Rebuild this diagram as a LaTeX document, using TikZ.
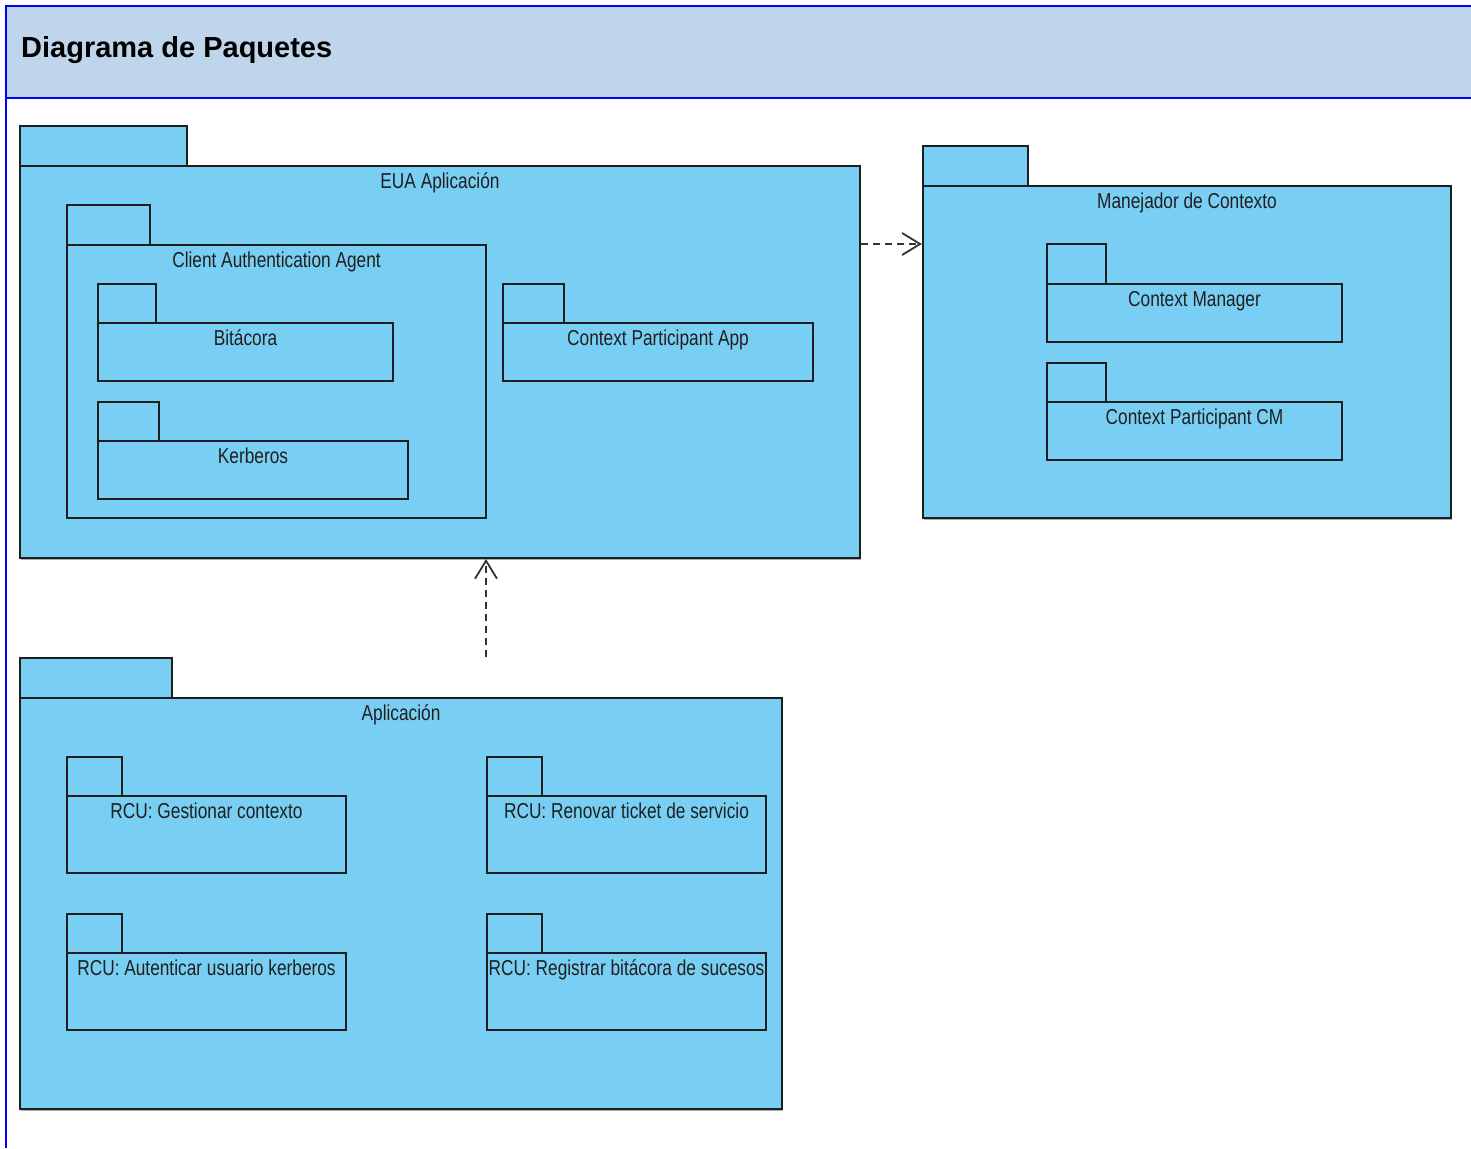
\documentclass[tikz,border=0pt]{standalone}
\usepackage{fontspec}
\usetikzlibrary{arrows.meta,calc,fit,shadows}
\newfontfamily\pkgfont[FakeStretch=0.8]{Liberation Sans}
\newfontfamily\headfont{Liberation Sans}

\definecolor{pkgfill}{HTML}{79CFF3}
\definecolor{headfill}{HTML}{BFD5EC}
\definecolor{frameblue}{HTML}{0000FF}
\definecolor{pkgline}{HTML}{1E1E1E}
\definecolor{deptone}{HTML}{333333}

\tikzset{
  pkgtab/.style={draw=pkgline, fill=pkgfill, line width=2pt, inner sep=0pt},
  pkgbody/.style={draw=pkgline, fill=pkgfill, line width=2pt, inner sep=0pt},
  pkgshadow/.style={drop shadow={shadow xshift=1pt, shadow yshift=-1.5pt, fill=black!45, opacity=0.7}},
  pkglabel/.style={anchor=base, inner sep=0pt, text=black!88,
    font=\pkgfont\fontsize{21.6}{26}\selectfont},
  dependency/.style={draw=deptone, line width=1.8pt, dash pattern=on 7pt off 5pt,
    -{Straight Barb[length=18pt, width=22pt, line width=1.8pt]}},
}

% #1 extra style, #2 name, #3 left x, #4 tab top, #5 tab right, #6 body top,
% #7 right x, #8 bottom y, #9 label
\newcommand\umlpkg[9][]{%
  \node[pkgtab, #1, fit={(#3,#4)(#5,#6)}] (#2-tab) {};
  \node[pkgbody, #1, fit={(#3,#6)(#7,#8)}] (#2) {};
  \node[inner sep=0pt, fit={(#2-tab)(#2)}] (#2-all) {};
  \node[pkglabel] (#2-label) at ($(#2.north)+(0,23)$) {#9};
}

\begin{document}
\begin{tikzpicture}[x=1pt, y=-1pt]
\useasboundingbox (0,0) rectangle (1471,1148);
\fill[white] (0,0) rectangle (1471,1148);

% diagram frame and heading band
\fill[headfill] (6,6) rectangle (1471,98);
\draw[frameblue, line width=2.6pt] (1471,6) -- (6,6) -- (6,1148);
\draw[frameblue, line width=2.6pt] (6,98) -- (1471,98);
\node[anchor=base west, inner sep=0pt, font=\headfont\bfseries\fontsize{29}{34}\selectfont]
  (title) at (21,58) {Diagrama de Paquetes};

% EUA Aplicación
\umlpkg[pkgshadow]{eua}{20}{126}{187}{166}{860}{558}{EUA Aplicación}
\umlpkg{caa}{67}{205}{150}{245}{486}{518}{Client Authentication Agent}
\umlpkg{bit}{98}{284}{156}{323}{393}{381}{Bitácora}
\umlpkg{ker}{98}{402}{159}{441}{408}{499}{Kerberos}
\umlpkg{cpa}{503}{284}{564}{323}{813}{381}{Context Participant App}

% Manejador de Contexto
\umlpkg[pkgshadow]{mdc}{923}{146}{1028}{186}{1451}{518}{Manejador de Contexto}
\umlpkg{cm}{1047}{244}{1106}{284}{1342}{342}{Context Manager}
\umlpkg{cpcm}{1047}{363}{1106}{402}{1342}{460}{Context Participant CM}

% Aplicación
\umlpkg[pkgshadow]{apl}{20}{658}{172}{698}{782}{1109}{Aplicación}
\umlpkg{gest}{67}{757}{122}{796}{346}{873}{RCU: Gestionar contexto}
\umlpkg{ren}{487}{757}{542}{796}{766}{873}{RCU: Renovar ticket de servicio}
\umlpkg{aut}{67}{914}{122}{953}{346}{1030}{RCU: Autenticar usuario kerberos}
\umlpkg{reg}{487}{914}{542}{953}{766}{1030}{RCU: Registrar bitácora de sucesos}

% dependencies
\draw[dependency] (eua.east |- caa.north) -- (mdc-all.west |- caa.north);
\draw[dependency] (apl-all.north -| ren.west) -- (eua.south -| ren.west);
\end{tikzpicture}
\end{document}
